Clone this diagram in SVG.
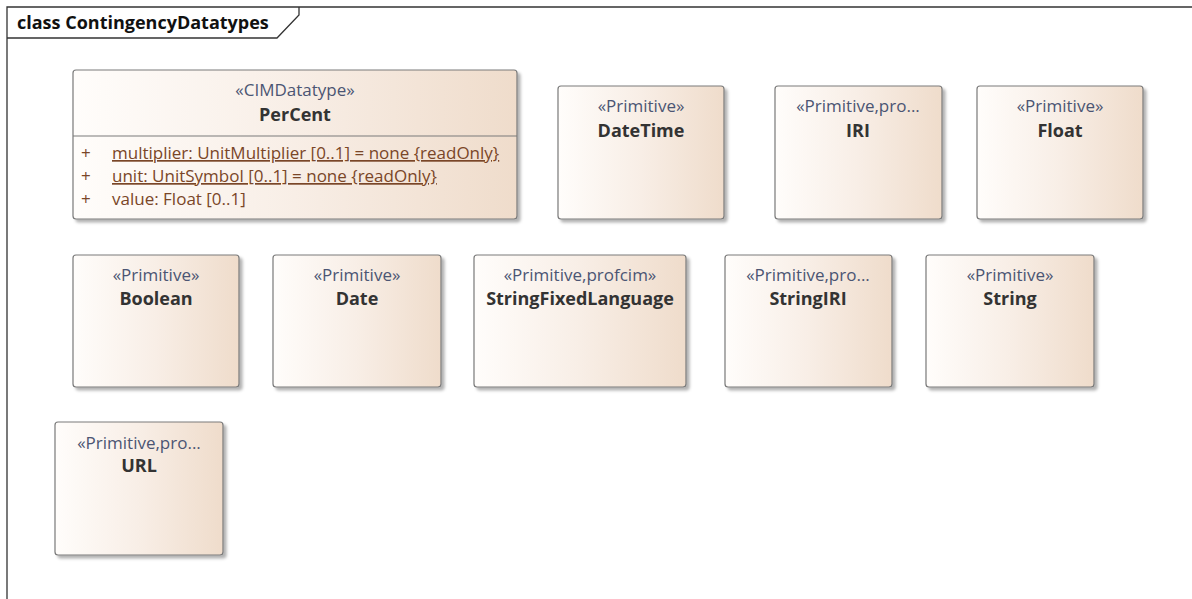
<svg xmlns="http://www.w3.org/2000/svg" width="1192" height="599" viewBox="0 0 1192 599">
<defs>
<linearGradient id="g" x1="0" y1="0" x2="1" y2="0">
<stop offset="0" stop-color="#fffdfb"/>
<stop offset="0.5" stop-color="#f8eee6"/>
<stop offset="1" stop-color="#efdccb"/>
</linearGradient>
<filter id="sh" x="-10%" y="-10%" width="125%" height="125%">
<feDropShadow dx="3" dy="3" stdDeviation="1.5" flood-color="#000" flood-opacity="0.3"/>
</filter>
<style>
.box{fill:url(#g);stroke:#7a7a7a;stroke-width:1.2;filter:url(#sh)}
.st{font-family:"Open Sans","Noto Sans",sans-serif;font-size:17px;fill:#4b5573;text-anchor:middle}
.nm{font-family:"Open Sans","Noto Sans",sans-serif;font-size:18px;font-weight:bold;fill:#333;text-anchor:middle}
.at{font-family:"Open Sans","Noto Sans",sans-serif;font-size:17px;fill:#7a4628}
.fr{fill:none;stroke:#333;stroke-width:1.3}
.tt{font-family:"Open Sans","Noto Sans",sans-serif;font-size:18px;font-weight:bold;fill:#111}
</style>
</defs>
<rect width="1192" height="599" fill="#fff"/>
<g id="frame">
<path class="fr" d="M7,599 V7 H1192"/>
<path class="fr" d="M7,38 H277 L299,15 V7"/>
<text class="tt" x="17" y="29">class ContingencyDatatypes</text>
</g>
<g id="PerCent">
<rect class="box" x="73" y="70" width="444" height="149" rx="3"/>
<line x1="73" y1="136" x2="517" y2="136" stroke="#7a7a7a" stroke-width="1.2"/>
<text class="st" x="295" y="96">«CIMDatatype»</text>
<text class="nm" x="295" y="121">PerCent</text>
<text class="at" x="81" y="159">+</text>
<text class="at" x="112" y="159" text-decoration="underline">multiplier: UnitMultiplier [0..1] = none {readOnly}</text>
<text class="at" x="81" y="182">+</text>
<text class="at" x="112" y="182" text-decoration="underline">unit: UnitSymbol [0..1] = none {readOnly}</text>
<text class="at" x="81" y="205">+</text>
<text class="at" x="112" y="205">value: Float [0..1]</text>
</g>
<g id="DateTime">
<rect class="box" x="558" y="86" width="166" height="133" rx="3"/>
<text class="st" x="641" y="112">«Primitive»</text>
<text class="nm" x="641" y="137">DateTime</text>
</g>
<g id="IRI">
<rect class="box" x="775" y="86" width="167" height="133" rx="3"/>
<text class="st" x="858" y="112">«Primitive,pro...</text>
<text class="nm" x="858" y="137">IRI</text>
</g>
<g id="Float">
<rect class="box" x="977" y="86" width="166" height="133" rx="3"/>
<text class="st" x="1060" y="112">«Primitive»</text>
<text class="nm" x="1060" y="137">Float</text>
</g>
<g id="Boolean">
<rect class="box" x="73" y="255" width="166" height="132" rx="3"/>
<text class="st" x="156" y="281">«Primitive»</text>
<text class="nm" x="156" y="305">Boolean</text>
</g>
<g id="Date">
<rect class="box" x="273" y="255" width="168" height="132" rx="3"/>
<text class="st" x="357" y="281">«Primitive»</text>
<text class="nm" x="357" y="305">Date</text>
</g>
<g id="StringFixedLanguage">
<rect class="box" x="474" y="255" width="212" height="132" rx="3"/>
<text class="st" x="580" y="281">«Primitive,profcim»</text>
<text class="nm" x="580" y="305">StringFixedLanguage</text>
</g>
<g id="StringIRI">
<rect class="box" x="725" y="255" width="167" height="132" rx="3"/>
<text class="st" x="808" y="281">«Primitive,pro...</text>
<text class="nm" x="808" y="305">StringIRI</text>
</g>
<g id="String">
<rect class="box" x="926" y="255" width="168" height="132" rx="3"/>
<text class="st" x="1010" y="281">«Primitive»</text>
<text class="nm" x="1010" y="305">String</text>
</g>
<g id="URL">
<rect class="box" x="55" y="422" width="168" height="133" rx="3"/>
<text class="st" x="139" y="449">«Primitive,pro...</text>
<text class="nm" x="139" y="472">URL</text>
</g>
<g id="connectors"></g>
</svg>
